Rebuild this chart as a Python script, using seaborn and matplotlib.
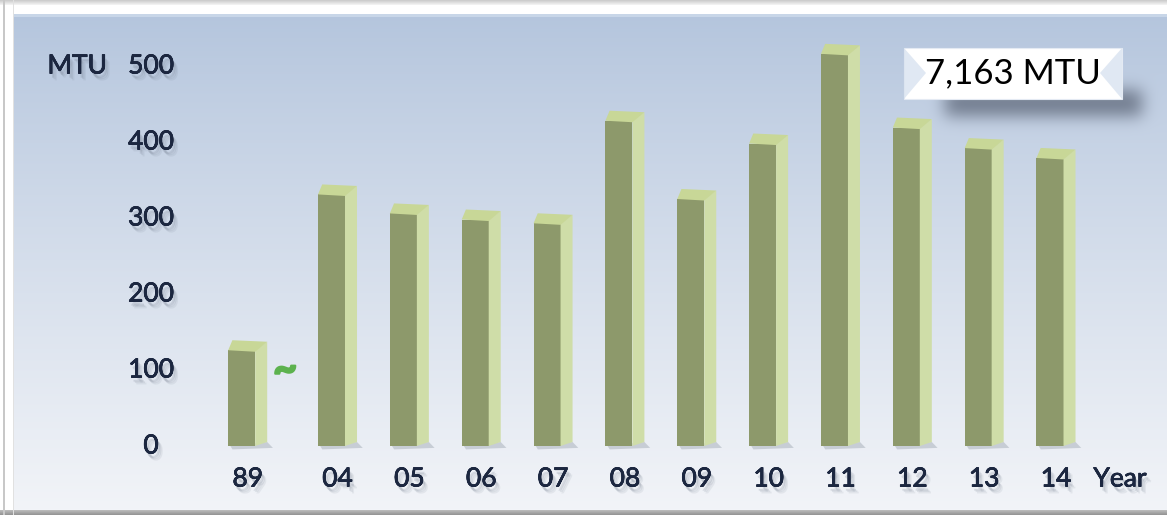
import numpy as np
import pandas as pd
import matplotlib
matplotlib.use("Agg")
import matplotlib.pyplot as plt
import seaborn as sns
from matplotlib.patches import Polygon, Rectangle
import matplotlib.patheffects as pe
from matplotlib.transforms import blended_transform_factory

# ---------------- data ----------------
years = ["89", "04", "05", "06", "07", "08", "09", "10", "11", "12", "13", "14"]
values = [126, 331, 306, 298, 293, 428, 325, 398, 516, 419, 392, 379]
y_ticks = [0, 100, 200, 300, 400, 500]
y_unit = "MTU"
x_unit = "Year"
total_label = "7,163 MTU"
break_mark = "~"

# ---------------- style ----------------
FRONT = "#8d996b"
SIDE = "#cfdda8"
TOP = "#c8d797"
TXT = "#1c2740"
FONT = "Lato"

W, H = 1167, 515
sns.set_theme(style="white")
plt.rcParams["font.family"] = [FONT, "DejaVu Sans"]

fig = plt.figure(figsize=(W / 100, H / 100), dpi=100)

# ---------------- background (gradient panel, frame, box shadow) ----------------
bg = fig.add_axes([0, 0, 1, 1])
bg.axis("off")
img = np.ones((H, W, 3))
top_c = np.array([180, 197, 221]) / 255
bot_c = np.array([242, 244, 248]) / 255
r0, r1, c0 = 14, 510, 14
t = np.linspace(0, 1, r1 - r0) ** 0.9
img[r0:r1, c0:] = (top_c[None, :] * (1 - t[:, None]) + bot_c[None, :] * t[:, None])[:, None, :]
img[r0:r0 + 3, c0:] = np.array([200, 214, 232]) / 255
for i in range(5):
    img[i, :] = (205 + i * 9) / 255
img[r1:, :] = np.linspace(185, 150, H - r1)[:, None, None] / 255
img[:, 3:5] = 200 / 255
img[:, c0 - 1:c0] = 225 / 255

# blurred shadow under the total box
mask = np.zeros((H, W))
mask[90:116, 945:1142] = 1.0
def blur(a, s):
    k = np.arange(-3 * s, 3 * s + 1)
    k = np.exp(-k ** 2 / (2 * s ** 2)); k /= k.sum()
    a = np.apply_along_axis(lambda v: np.convolve(v, k, mode="same"), 1, a)
    a = np.apply_along_axis(lambda v: np.convolve(v, k, mode="same"), 0, a)
    return a
mask = np.clip(blur(mask, 8) * 0.85, 0, 1)
shadow_c = np.array([100, 110, 128]) / 255
img = img * (1 - mask[..., None]) + shadow_c[None, None, :] * mask[..., None]
bg.imshow(img, extent=[0, W, 0, H], origin="upper", aspect="auto", interpolation="bilinear")
bg.set_xlim(0, W); bg.set_ylim(0, H)

# ---------------- main axes ----------------
ax = fig.add_axes([0, 0, 1, 1])
ax.patch.set_alpha(0)
for s in ax.spines.values():
    s.set_visible(False)

positions = [0.0 - 1.25] + [float(i) for i in range(len(years) - 1)]
df = pd.DataFrame({"pos": positions, "value": values, "year": years})

bar_w = 0.376
sns.barplot(data=df, x="pos", y="value", native_scale=True, width=bar_w,
            color=FRONT, saturation=1, linewidth=0, edgecolor="none", ax=ax, zorder=3)

px_per_unit = 0.76
x_step = 71.85
x0_px = 331.5
dx = 12 / x_step
dy = 8.5 / px_per_unit
dyb = 4 / px_per_unit

for p in list(ax.patches):
    xl = p.get_x(); xr = xl + p.get_width(); h = p.get_height()
    ax.add_patch(Polygon([(xl + 0.03, 0), (xr + dx, dyb), (xr + dx + 0.08, -2.5), (xl + 0.06, -4.5)],
                         closed=True, facecolor="#6f7a88", alpha=0.28, lw=0, zorder=2))
    ax.add_patch(Polygon([(xr, 0), (xr, h), (xr + dx, h + dy), (xr + dx, dyb)],
                         closed=True, facecolor=SIDE, lw=0, zorder=3))
    ax.add_patch(Polygon([(xl, h), (xr, h - 2), (xr + dx, h + dy), (xl + 0.35 * dx, h + dy + 2)],
                         closed=True, facecolor=TOP, lw=0, zorder=4))

ax.set_xlim(-x0_px / x_step, (W - x0_px) / x_step)
ax.set_ylim(-(H - 446) / px_per_unit, 446 / px_per_unit)
ax.set_xticks([]); ax.set_yticks([])
ax.set_xlabel(""); ax.set_ylabel("")

shadow = [pe.withSimplePatchShadow(offset=(o, -o - 1.5), shadow_rgbFace="#6d7788", alpha=a)
          for o, a in [(3.5, 0.10), (2.5, 0.14), (1.5, 0.2)]]
shadow = [shadow[0], shadow[1], shadow[2], pe.Stroke(linewidth=0.5, foreground=TXT), pe.Normal()]

FS = 19
ty = blended_transform_factory(fig.transFigure, ax.transData)
for v in y_ticks:
    ax.text(151 / W, v, str(v), transform=ty, ha="center", va="center",
            fontsize=FS, color=TXT, path_effects=shadow)
ax.text(77 / W, y_ticks[-1], y_unit, transform=ty, ha="center", va="center",
        fontsize=FS, color=TXT, path_effects=shadow)

tx = blended_transform_factory(ax.transData, fig.transFigure)
for pos, yr in zip(positions, years):
    ax.text(pos + dx / 2, (H - 479) / H, yr, transform=tx, ha="center", va="center",
            fontsize=FS, color=TXT, path_effects=shadow)
ax.text(1120 / W, (H - 479) / H, x_unit, transform=fig.transFigure, ha="center", va="center",
        fontsize=FS, color=TXT, path_effects=shadow)

# break mark between 89 and 04
ax.text((positions[0] + positions[1]) / 2 - 0.02, 100, break_mark, ha="center", va="center",
        fontsize=30, fontweight="bold", color="#5cb24e", zorder=5,
        path_effects=[pe.Stroke(linewidth=1.5, foreground="#5cb24e"), pe.Normal()])

# total box
bx0, bx1, by0, by1 = 904, 1122, 48, 99
fig.patches.append(Rectangle((bx0 / W, (H - by1) / H), (bx1 - bx0) / W, (by1 - by0) / H,
                             transform=fig.transFigure, facecolor="white", edgecolor="#e4eaf3",
                             lw=0.8, zorder=6))
bev = "#d9e3f0"
fig.patches.append(Polygon([(bx0 / W, (H - by0) / H), (bx0 / W, (H - by1) / H),
                            ((bx0 + 22) / W, (H - 73) / H)], closed=True,
                           transform=fig.transFigure, facecolor=bev, alpha=0.8, lw=0, zorder=7))
fig.patches.append(Polygon([(bx1 / W, (H - by0) / H), (bx1 / W, (H - by1) / H),
                            ((bx1 - 22) / W, (H - 73) / H)], closed=True,
                           transform=fig.transFigure, facecolor=bev, alpha=0.8, lw=0, zorder=7))
fig.text(1013 / W, (H - 73) / H, total_label, ha="center", va="center",
         fontsize=25, color="black", zorder=8)

fig.savefig("out.png", dpi=100)
